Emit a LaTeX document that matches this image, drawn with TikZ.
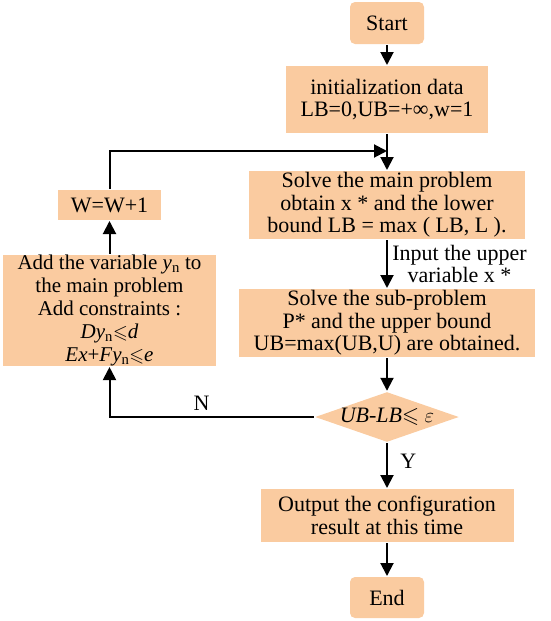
\documentclass[tikz,border=0pt]{standalone}
\usepackage{amssymb,amsmath}
\usepackage{fontspec}
\setmainfont{Liberation Serif}
\usetikzlibrary{arrows.meta}
\usetikzlibrary{shapes.geometric}
\definecolor{boxfill}{RGB}{250,203,160}
\newcommand{\leqs}{{\fontsize{19}{23}\selectfont$\leqslant$}}

\begin{document}
\begin{tikzpicture}[x=1pt, y=-1pt, line width=2pt,
  box/.style={rectangle, fill=boxfill, inner sep=0pt, align=center,
    font=\fontsize{22}{22.5}\selectfont},
  lbl/.style={font=\fontsize{22}{21.5}\selectfont},
  arr/.style={-{Triangle[width=13pt,length=13pt]}}]
\useasboundingbox (0,0) rectangle (550,621);

\node [box, rounded corners=5pt, minimum width=74pt, minimum height=42pt] (start) at (387,23) {Start};
\node [box, minimum width=202pt, minimum height=67pt] (init) at (387,99.5) {initialization data\\LB=0,UB=+∞,w=1};
\node [box, minimum width=276pt, minimum height=68pt] (main) at (387,205) {Solve the main problem\\obtain x * and the lower\\bound LB = max ( LB, L ).};
\node [box, minimum width=296pt, minimum height=68pt] (sub) at (387,323) {Solve the sub-problem\\P* and the upper bound\\UB=max(UB,U) are obtained.};
\node [box, diamond, aspect=2.86, minimum width=143pt, minimum height=50pt] (test) at (387,417) {\textit{UB-LB}$\leqslant$ $\varepsilon$};
\node [box, minimum width=253pt, minimum height=53pt] (out) at (387,515.5) {Output the configuration\\result at this time};
\node [box, rounded corners=5pt, minimum width=74pt, minimum height=41pt] (fin) at (387,597.5) {End};
\node [box, minimum width=103pt, minimum height=30pt] (upd) at (109.5,205) {W=W+1};
\node [box, minimum width=213pt, minimum height=111pt, font=\fontsize{21}{23}\selectfont] (add) at (109.5,310.5) {Add the variable \textit{y}\textsubscript{n} to\\the main problem\\Add constraints :\\\textit{Dy}\textsubscript{n}\leqs\textit{d}\\\textit{Ex}+\textit{Fy}\textsubscript{n}\leqs\textit{e}};
\coordinate (join) at (387,151);

\draw[arr] (start) -- (init);
\draw[arr] (init) -- (main);
\draw[arr] (main) -- (sub) node [pos=0.5, right=1pt, align=center, lbl] (inp) {Input the upper\\variable x *};
\draw[arr] (sub) -- (test);
\draw[arr] (test) -- (out) node [pos=0.4, right=9pt, lbl] (yes) {Y};
\draw[arr] (out) -- (fin);
\draw[arr] (test.west) -| (add.south) node [pos=0.275, above=2pt, lbl] (no) {N};
\draw[arr] (add) -- (upd);
\draw[arr] (upd.north) |- (join);
\end{tikzpicture}
\end{document}
